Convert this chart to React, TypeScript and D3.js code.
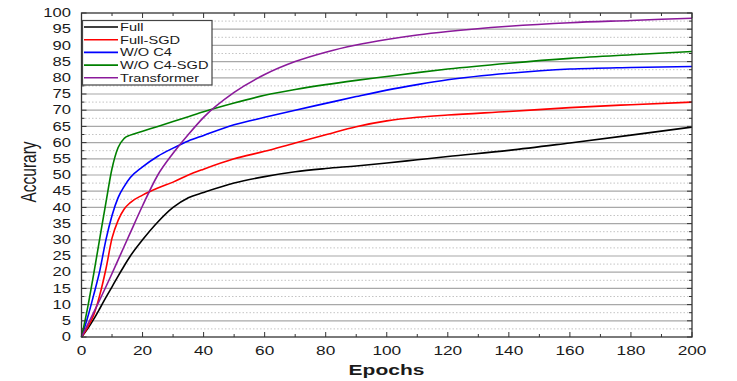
import React from "react";
import * as d3 from "d3";

const epochs = [0, 2, 4, 6, 8, 10, 12, 14, 16, 20, 25, 30, 35, 40, 50, 60, 70, 80, 90, 100, 110, 120, 140, 160, 180, 200];
const full = [0, 2.5, 5.5, 8.8, 12.2, 15.5, 18.8, 22, 25, 30, 35.5, 40, 43, 44.6, 47.5, 49.5, 51, 52, 52.8, 53.7, 54.7, 55.7, 57.6, 59.9, 62.3, 64.8];
const fullSGD = [0, 3, 6.8, 13, 21, 30.5, 36, 39.5, 41.5, 43.8, 46, 47.8, 50, 51.8, 55, 57.3, 59.9, 62.4, 64.9, 66.7, 67.8, 68.5, 69.6, 70.8, 71.7, 72.5];
const woC4 = [0, 6, 13, 20.5, 30, 37.5, 43, 46.5, 49.2, 52.5, 55.8, 58.3, 60.5, 62.2, 65.5, 67.8, 70, 72.1, 74.2, 76.2, 77.9, 79.4, 81.4, 82.7, 83.2, 83.5];
const woC4SGD = [0, 9, 19.5, 30.5, 41.5, 52, 58.5, 61.3, 62.3, 63.5, 65, 66.5, 68, 69.5, 72.2, 74.6, 76.4, 77.9, 79.2, 80.4, 81.6, 82.7, 84.5, 86, 87.1, 88.1];
const transformer = [0, 3.8, 7.6, 11.5, 15.5, 19.6, 23.8, 28, 32.2, 40.5, 50, 56.7, 62.5, 67.8, 75.5, 81, 85, 87.9, 90.1, 91.8, 93.2, 94.3, 95.9, 97, 97.7, 98.4];

const seriesNames = ["Full", "Full-SGD", "W/O C4", "W/O C4-SGD", "Transformer"];
const seriesColors = ["#000000", "#ff0000", "#0000ff", "#008000", "#8b1a9b"];
const seriesValues = [full, fullSGD, woC4, woC4SGD, transformer];

const xTicks = [0, 20, 40, 60, 80, 100, 120, 140, 160, 180, 200];
const yTicks = d3.range(0, 101, 5);

const FONT = "'Liberation Sans', Arial, sans-serif";
const SX = 1.38;

export default function App() {
  const W = 737, H = 381;
  const x = d3.scaleLinear().domain([0, 200]).range([81.5, 692]);
  const y = d3.scaleLinear().domain([0, 100]).range([337, 13]);
  const line = d3
    .line<[number, number]>()
    .x((d) => x(d[0]))
    .y((d) => y(d[1]))
    .curve(d3.curveMonotoneX);

  const minorY = d3.range(2.5, 100, 5);
  const majorGrid = d3.range(5, 100, 5);
  const minorX = d3.range(10, 200, 20);
  const [x0, x1] = x.range();
  const [y0, y1] = y.range();

  return (
    <svg width={W} height={H} style={{ position: "absolute", left: 0, top: 0, background: "#fff" }}>
      <rect x={0} y={0} width={W} height={H} fill="#fff" />
      {minorY.map((v) => (
        <line key={"mg" + v} x1={x0} x2={x1} y1={y(v)} y2={y(v)} stroke="#c4c4c4" strokeWidth={1} strokeDasharray="1.5,2" />
      ))}
      {majorGrid.map((v) => (
        <line key={"g" + v} x1={x0} x2={x1} y1={y(v)} y2={y(v)} stroke="#a8a8a8" strokeWidth={1.2} />
      ))}
      {seriesValues.map((vals, i) => (
        <path
          key={seriesNames[i]}
          d={line(epochs.map((e, j) => [e, vals[j]] as [number, number])) || ""}
          fill="none"
          stroke={seriesColors[i]}
          strokeWidth={1.6}
        />
      ))}
      <rect x={x0} y={y1} width={x1 - x0} height={y0 - y1} fill="none" stroke="#333" strokeWidth={1.3} />
      {xTicks.map((t) => (
        <g key={"xt" + t}>
          <line x1={x(t)} x2={x(t)} y1={y0} y2={y0 - 5} stroke="#333" />
          <line x1={x(t)} x2={x(t)} y1={y1} y2={y1 + 5} stroke="#333" />
        </g>
      ))}
      {minorX.map((t) => (
        <g key={"xm" + t}>
          <line x1={x(t)} x2={x(t)} y1={y0} y2={y0 - 3} stroke="#333" />
          <line x1={x(t)} x2={x(t)} y1={y1} y2={y1 + 3} stroke="#333" />
        </g>
      ))}
      {yTicks.map((t) => (
        <g key={"yt" + t}>
          <line x1={x0} x2={x0 + 5} y1={y(t)} y2={y(t)} stroke="#333" />
          <line x1={x1} x2={x1 - 5} y1={y(t)} y2={y(t)} stroke="#333" />
        </g>
      ))}
      {minorY.map((t) => (
        <g key={"ym" + t}>
          <line x1={x0} x2={x0 + 3} y1={y(t)} y2={y(t)} stroke="#333" />
          <line x1={x1} x2={x1 - 3} y1={y(t)} y2={y(t)} stroke="#333" />
        </g>
      ))}
      {yTicks.map((t) => (
        <text
          key={"yl" + t}
          transform={`translate(71,${y(t) + 4.2}) scale(${SX},1)`}
          textAnchor="end"
          fontFamily={FONT}
          fontSize={12}
          fill="#1a1a1a"
        >
          {t}
        </text>
      ))}
      {xTicks.map((t) => (
        <text
          key={"xl" + t}
          transform={`translate(${x(t)},${354.5}) scale(${SX},1)`}
          textAnchor="middle"
          fontFamily={FONT}
          fontSize={12.5}
          fill="#1a1a1a"
        >
          {t}
        </text>
      ))}
      <text
        transform={`translate(386.5,375) scale(1.4,1)`}
        textAnchor="middle"
        fontFamily={FONT}
        fontSize={15}
        fontWeight="bold"
        fill="#1a1a1a"
      >
        Epochs
      </text>
      <text
        transform={`translate(36,172) scale(${SX},1) rotate(-90)`}
        textAnchor="middle"
        fontFamily={FONT}
        fontSize={15.5}
        fill="#1a1a1a"
      >
        Accurary
      </text>
      <rect x={82.5} y={20.5} width={129.5} height={64.5} fill="#fff" stroke="#444" strokeWidth={1.2} />
      {seriesNames.map((n, i) => {
        const ly = 27 + i * 12.7;
        return (
          <g key={"lg" + n}>
            <line x1={84} x2={118} y1={ly} y2={ly} stroke={seriesColors[i]} strokeWidth={1.6} />
            <text
              transform={`translate(120,${ly + 4}) scale(1.33,1)`}
              fontFamily={FONT}
              fontSize={11}
              fill="#1a1a1a"
            >
              {n}
            </text>
          </g>
        );
      })}
    </svg>
  );
}
